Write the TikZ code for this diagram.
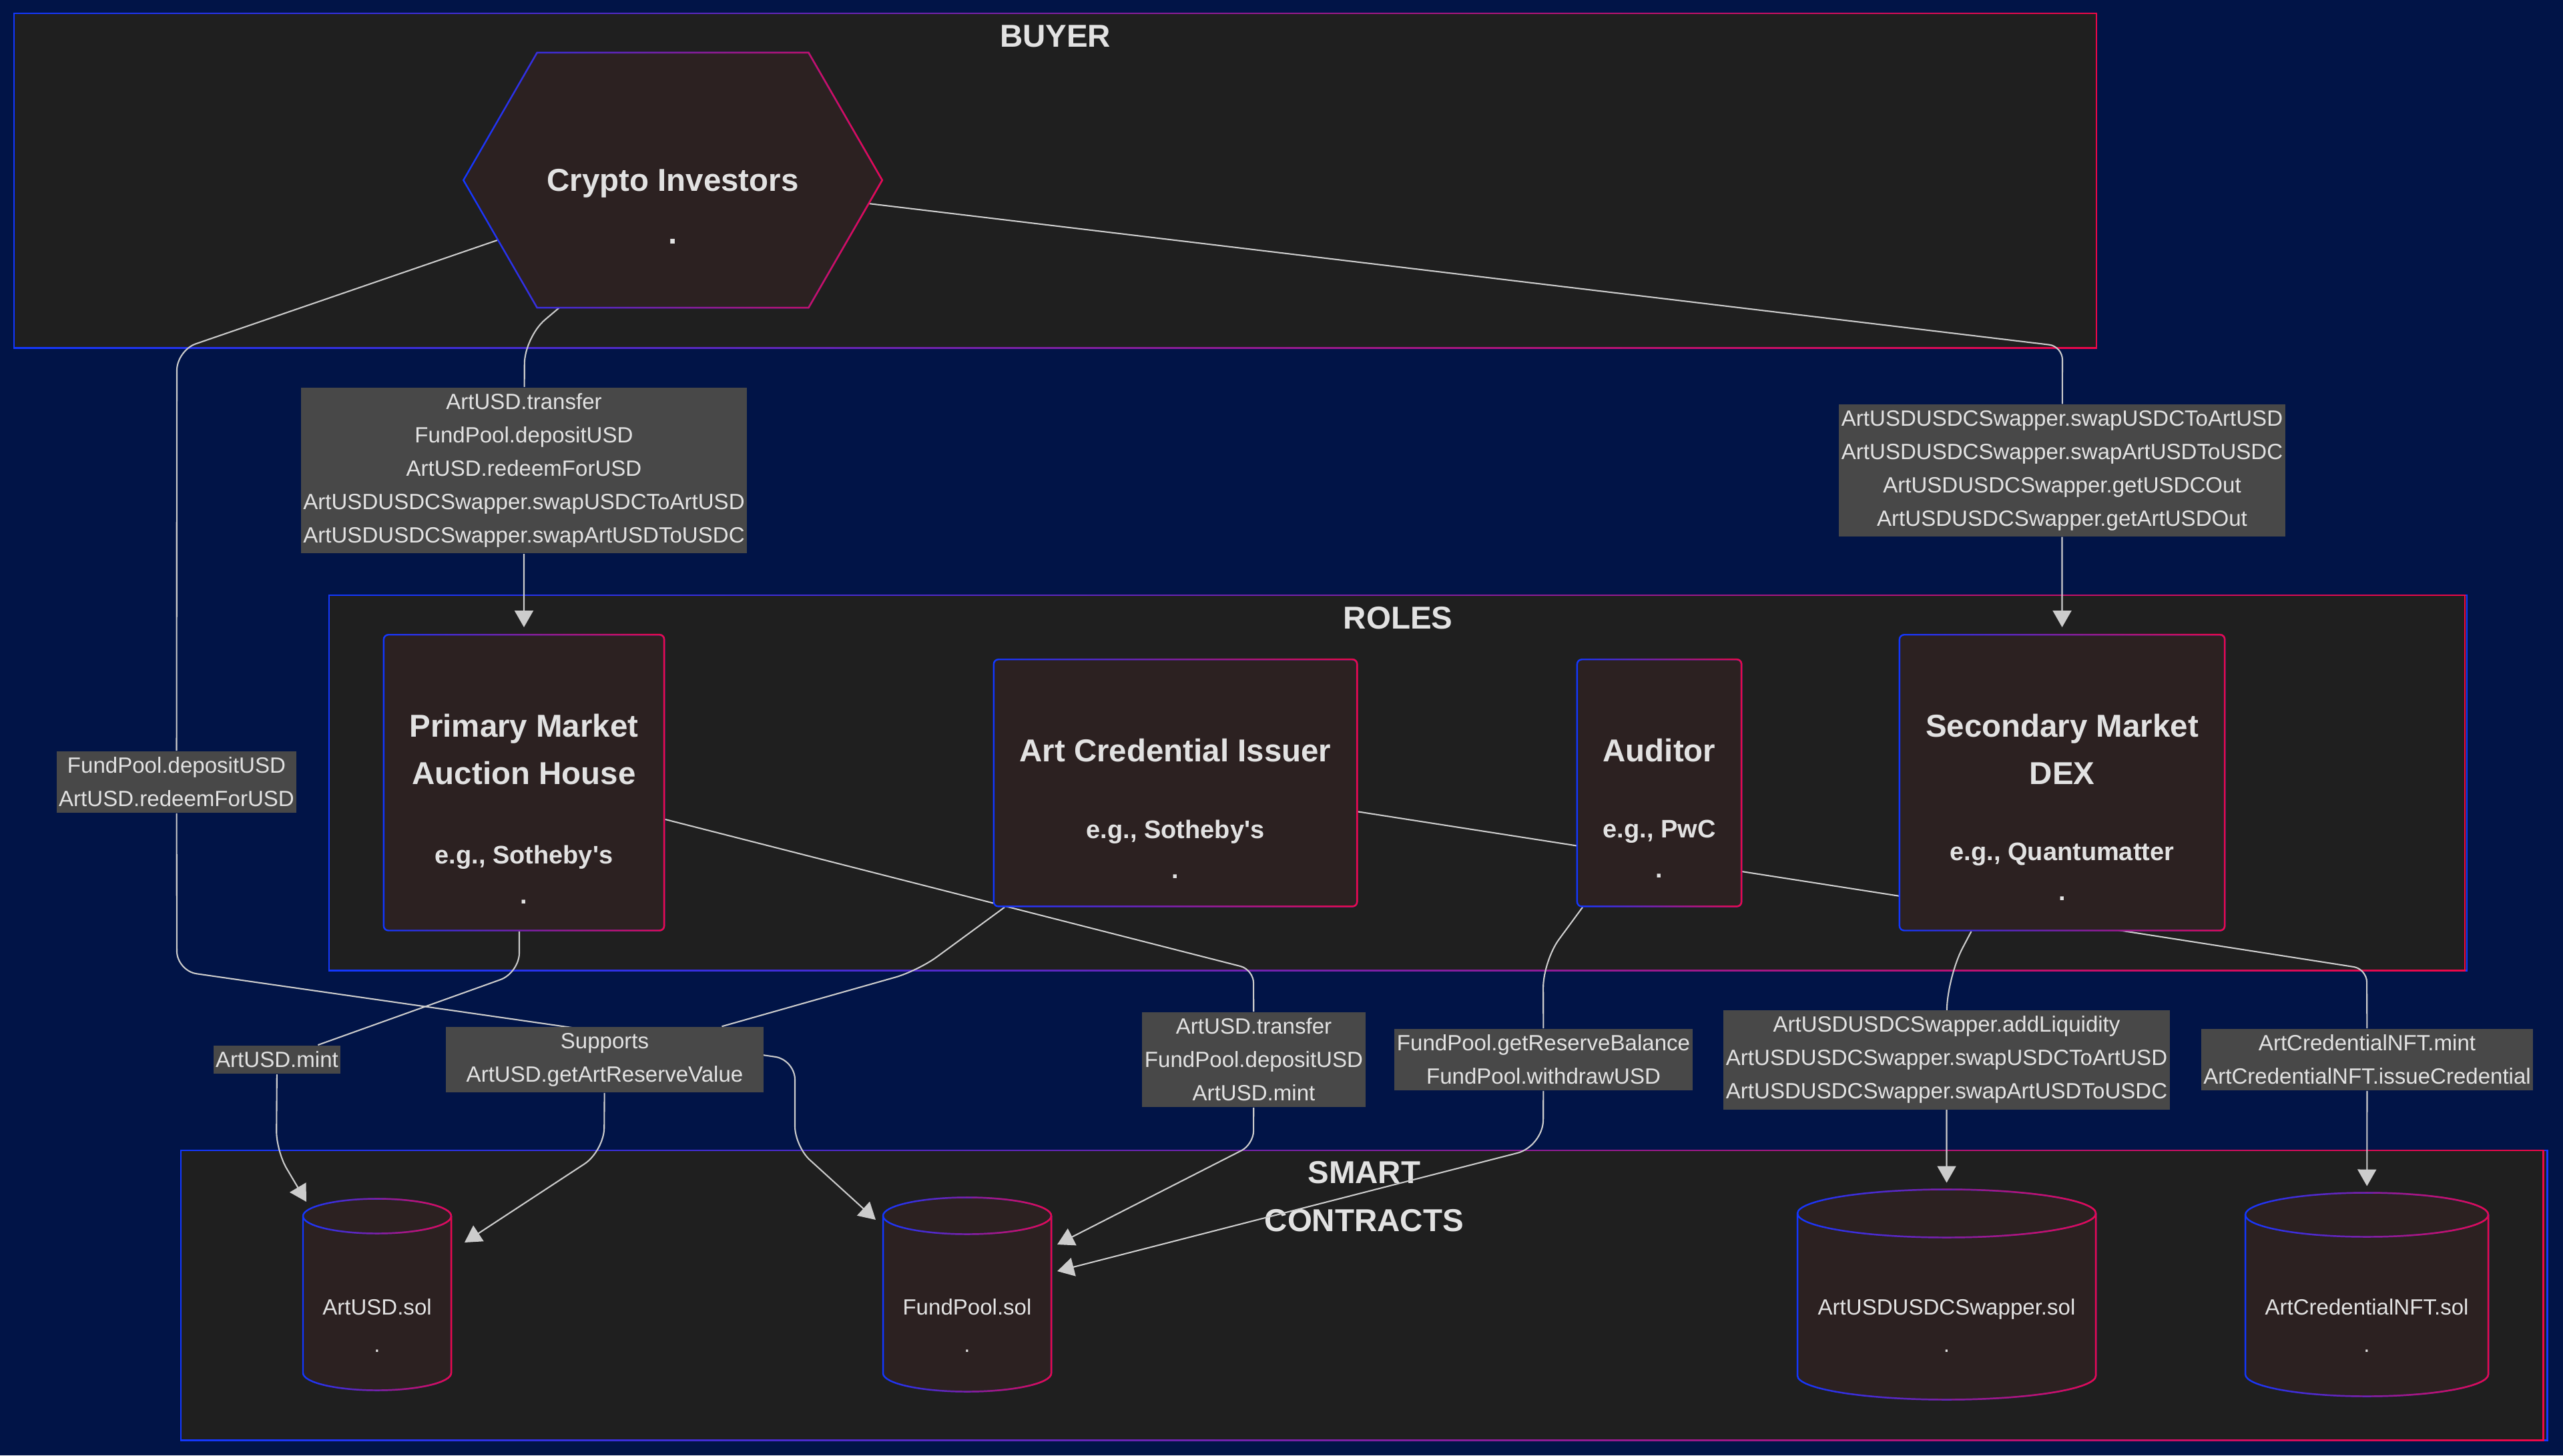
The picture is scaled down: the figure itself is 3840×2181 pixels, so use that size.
\documentclass[tikz,border=0pt]{standalone}
\usepackage{fontspec}
\setmainfont{Liberation Sans}[Ligatures=TeXOff]
\usetikzlibrary{arrows.meta,positioning,calc,shapes.geometric,shapes.symbols,fadings}
\definecolor{navy}{HTML}{011447}
\definecolor{panel}{HTML}{1F1F1F}
\definecolor{cardfill}{HTML}{2C2121}
\definecolor{tagfill}{HTML}{484848}
\definecolor{ink}{HTML}{E2E2E2}
\definecolor{wire}{HTML}{CCCCCC}
\definecolor{gblue}{HTML}{1238FF}
\definecolor{gred}{HTML}{EE0848}
\newcommand{\tagsize}{\fontsize{9.4pt}{14.2pt}\selectfont}
\newcommand{\headsize}{\fontsize{13.5pt}{20.3pt}\selectfont\bfseries}
\newcommand{\subsize}{\fontsize{10.8pt}{17pt}\selectfont\bfseries}
\newcommand{\solsize}{\fontsize{9.4pt}{15.9pt}\selectfont}
\tikzfading[name=tored, left color=transparent!100, right color=transparent!0]
\pgfdeclarelayer{bg}
\pgfdeclarelayer{wires}
\pgfsetlayers{bg,wires,main}
\newcommand{\rolecard}[7]{%
  \node[card, minimum width=#5, minimum height=#6] (#1) at (#2) {};
  \node[cardtitle, anchor=north] (#1-t) at ($(#1.north)+(0,119)$) {#3};
  \node[cardsub, anchor=north] (#1-s) at ($(#1.north)+(0,#7)$) {#4\\.};
}
\newcommand{\solfile}[6]{%
  \node[solbox, minimum width=#3*0.01cm, minimum height=#4*0.01cm] (#1) at (#2) {};
  \path[store] ($(#1.north west)+(0,#5)$) -- ($(#1.south west)+(0,-#5)$)
    arc[start angle=180, end angle=0, x radius=#3/2, y radius=#5]
    -- ($(#1.north east)+(0,#5)$)
    arc[start angle=0, end angle=-180, x radius=#3/2, y radius=#5] -- cycle;
  \draw[grad] ($(#1.north west)+(0,#5)$) arc[start angle=180, end angle=0, x radius=#3/2, y radius=#5];
  \node[soltext, anchor=north] (#1-t) at ($(#1.center)+(0,6)$) {#6\\.};
}
\tikzset{
  grad/.style={draw=gblue, line width=0.7pt, postaction={draw=gred, line width=0.7pt, path fading=tored}},
  cluster/.style={grad, fill=panel, inner sep=0pt, anchor=north west},
  clustertitle/.style={text=ink, font=\headsize, align=center, inner sep=0pt, anchor=north},
  card/.style={grad, fill=cardfill, rounded corners=2pt, inner sep=0pt, anchor=north},
  hexcard/.style={grad, fill=cardfill, signal, signal to=east and west, signal pointer angle=120, inner sep=0pt},
  solbox/.style={inner sep=0pt, outer sep=0pt},
  store/.style={grad, fill=cardfill},
  cardtitle/.style={text=ink, font=\headsize, align=center, inner sep=0pt},
  cardsub/.style={text=ink, font=\subsize, align=center, inner sep=0pt},
  soltext/.style={text=ink, font=\solsize, align=center, inner sep=0pt},
  tag/.style={fill=tagfill, text=ink, font=\tagsize, align=center, inner xsep=1pt, inner ysep=2.6pt},
  flow/.style={-{Triangle[length=0.25cm,width=0.28cm]}, draw=wire, line width=0.6pt, rounded corners=0.2cm}
}
\begin{document}
\begin{tikzpicture}[x=0.01cm, y=-0.01cm]
  \useasboundingbox (0,0) rectangle (3840,2181);
  \begin{pgfonlayer}{bg}
    \fill[navy] (0,0) rectangle (3840,2181);
    \node[cluster, minimum width=31.18cm, minimum height=5.01cm] (buyer) at (20,19) {};
    \node[cluster, minimum width=32.01cm, minimum height=5.62cm] (roles) at (492,891) {};
    \node[cluster, minimum width=35.43cm, minimum height=4.34cm] (contracts) at (270,1723) {};
    \node[clustertitle] (buyer-t) at ($(buyer.north)+(0,18)$) {BUYER};
    \node[clustertitle] (roles-t) at ($(roles.north)+(0,18)$) {ROLES};
    \node[clustertitle] (contracts-t) at ($(contracts.north)+(0,17)$) {SMART\\CONTRACTS};
  \end{pgfonlayer}

  \node[hexcard, minimum width=6.27cm, minimum height=3.82cm] (investors) at (1008,270) {};
  \node[cardtitle, anchor=north] (investors-t) at ($(investors.center)+(0,-17)$) {Crypto Investors\\[2pt].};

  \rolecard{prim}{785,950}{Primary Market\\Auction House}{e.g., Sotheby's}{4.20cm}{4.43cm}{316}
  \rolecard{issuer}{1761,987}{Art Credential Issuer}{e.g., Sotheby's}{5.44cm}{3.70cm}{241}
  \rolecard{auditor}{2486,987}{Auditor}{e.g., PwC}{2.46cm}{3.70cm}{241}
  \rolecard{dex}{3089.5,950}{Secondary Market\\DEX}{e.g., Quantumatter}{4.87cm}{4.43cm}{312}

  \solfile{artusd}{565,1940}{222}{287}{26}{ArtUSD.sol}
  \solfile{fund}{1449,1940}{252}{291}{27.5}{FundPool.sol}
  \solfile{swap}{2916.5,1940}{447}{315}{36}{ArtUSDUSDCSwapper.sol}
  \solfile{nft}{3546,1940}{364}{305}{33}{ArtCredentialNFT.sol}

  \node[tag] (tagprim) at (785,705) {ArtUSD.transfer\\FundPool.depositUSD\\ArtUSD.redeemForUSD\\ArtUSDUSDCSwapper.swapUSDCToArtUSD\\ArtUSDUSDCSwapper.swapArtUSDToUSDC};
  \node[tag] (tagdex) at (3089.5,705) {ArtUSDUSDCSwapper.swapUSDCToArtUSD\\ArtUSDUSDCSwapper.swapArtUSDToUSDC\\ArtUSDUSDCSwapper.getUSDCOut\\ArtUSDUSDCSwapper.getArtUSDOut};
  \node[tag] (tagfund) at (264.5,1172) {FundPool.depositUSD\\ArtUSD.redeemForUSD};
  \node[tag, minimum width=4.76cm] (tagsupp) at (906,1588) {Supports\\ArtUSD.getArtReserveValue};
  \node[tag] (tagmint) at (415,1588) {ArtUSD.mint};
  \node[tag] (tagpay) at (1878.5,1588) {ArtUSD.transfer\\FundPool.depositUSD\\ArtUSD.mint};
  \node[tag] (tagaudit) at (2312.5,1588) {FundPool.getReserveBalance\\FundPool.withdrawUSD};
  \node[tag] (tagswap) at (2916.5,1588) {ArtUSDUSDCSwapper.addLiquidity\\ArtUSDUSDCSwapper.swapUSDCToArtUSD\\ArtUSDUSDCSwapper.swapArtUSDToUSDC};
  \node[tag] (tagnft) at (3546.5,1588) {ArtCredentialNFT.mint\\ArtCredentialNFT.issueCredential};

  \begin{pgfonlayer}{wires}
    \draw[flow, rounded corners=0.4cm, shorten >=0.1cm] ($(investors.center)+(-170,191)$) -- (786,505) -- (tagprim) -- (prim);
    \draw[flow, shorten >=0.1cm] ($(investors.center)+(293,35)$) -- (3090,519) -- (tagdex) -- (dex);
    \draw[flow, rounded corners=0.3cm] ($(investors.center)+(-263,90)$) -- (265,525) -- (tagfund) -- (265,1455) -- (1191,1588) -- (1191,1718) -- ($(fund.center)+(-137,-112)$);
    \draw[flow, rounded corners=0.35cm] ($(issuer.south)+(-256,0)$) -- (1375,1455) -- (tagsupp) -- (905,1725) -- ($(artusd.center)+(131,-78)$);
    \draw[flow, rounded corners=0.3cm] ($(prim.south)+(-7,0)$) -- (778,1458) -- (tagmint) -- (414,1725) -- ($(artusd.center)+(-106,-139)$);
    \draw[flow] ($(prim.east)+(0,55)$) -- (1878,1453) -- (tagpay) -- (1878,1715) -- ($(fund.center)+(135,-75)$);
    \draw[flow, rounded corners=0.4cm] ($(auditor.south)+(-115,0)$) -- (2312,1440) -- (tagaudit) -- (2312,1718) -- ($(fund.center)+(135,-35)$);
    \draw[flow, rounded corners=0.5cm, shorten >=0.1cm] ($(dex.south)+(-136,0)$) -- (2917,1465) -- (tagswap) -- (swap);
    \draw[flow, shorten >=0.1cm] ($(issuer.east)+(0,43)$) -- (3546,1452) -- (tagnft) -- (nft);
  \end{pgfonlayer}
\end{tikzpicture}
\end{document}
